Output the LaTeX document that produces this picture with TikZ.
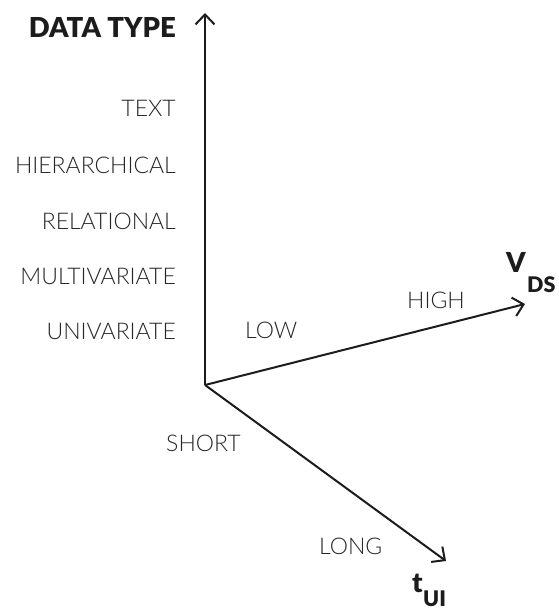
\documentclass[tikz,border=0pt]{standalone}
\usepackage{fontspec}
\setmainfont{Lato}[UprightFont={* Light}, BoldFont={* Black}]
\usetikzlibrary{arrows.meta}
\definecolor{ink}{HTML}{1C1C1C}
\definecolor{labelgray}{HTML}{262626}
\tikzset{
  axis/.style={draw=ink, line width=2pt,
    -{Straight Barb[length=10pt,width=19pt,line width=2pt]}},
  tick/.style={inner sep=0pt, text=labelgray, font=\fontsize{23}{27}\selectfont},
  title/.style={inner sep=0pt, text=ink, font=\bfseries\fontsize{27.5}{31}\selectfont},
  sub/.style={inner sep=0pt, text=ink, font=\bfseries\fontsize{21.5}{25}\selectfont},
}
\begin{document}
\begin{tikzpicture}[x=1pt,y=-1pt]
  \useasboundingbox (0,0) rectangle (558,610);

  % axes
  \coordinate (O) at (205,385);
  \coordinate (ytip) at (205,13);
  \coordinate (vtip) at (525,304);
  \coordinate (ttip) at (446,561);
  \draw[axis] (O) -- (ytip);
  \draw[axis] (O) -- (vtip);
  \draw[axis] (O) -- (ttip);

  % vertical axis: data types
  \node[title, anchor=east] (dtype) at (176,27.5) {DATA TYPE};
  \node[tick, anchor=east] (text) at (176,108.5) {TEXT};
  \node[tick, anchor=east] (hier) at (176,165) {HIERARCHICAL};
  \node[tick, anchor=east] (rel) at (176,221) {RELATIONAL};
  \node[tick, anchor=east] (multi) at (176,276.5) {MULTIVARIATE};
  \node[tick, anchor=east] (uni) at (176,331.5) {UNIVARIATE};

  % data-set volume axis
  \node[tick, anchor=west] (low) at (245,330.5) {LOW};
  \node[tick, anchor=west] (high) at (407,300) {HIGH};
  \node[title, anchor=west] (vds) at (506,262.5) {V};
  \node[sub, anchor=west] (ds) at (527,284.5) {DS};

  % interaction-time axis
  \node[tick, anchor=west] (short) at (166,443) {SHORT};
  \node[tick, anchor=west] (long) at (319,546) {LONG};
  \node[title, anchor=base west] (tui) at (412,592) {t};
  \node[sub, anchor=base west] (ui) at (423,606) {UI};
\end{tikzpicture}
\end{document}
